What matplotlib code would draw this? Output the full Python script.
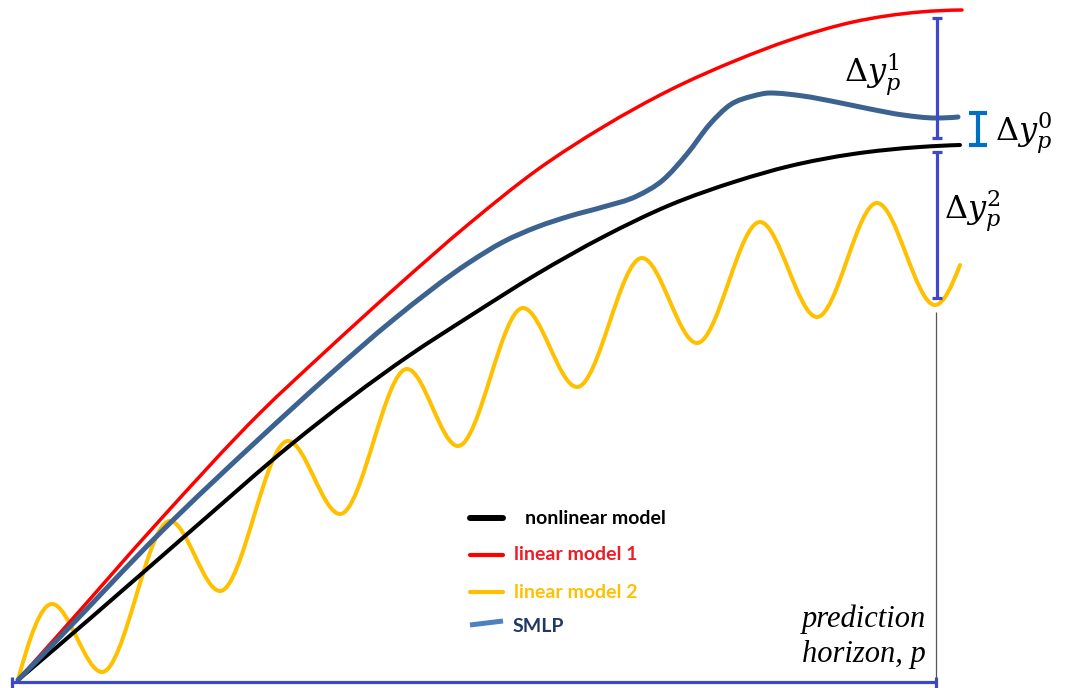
import numpy as np
import matplotlib
matplotlib.use("Agg")
import matplotlib.pyplot as plt
from matplotlib.path import Path
from matplotlib.patches import PathPatch

# ---- model responses over the prediction window (t = 0 ... horizon) ----
horizon = 918

nonlinear_t = [0, 75, 175, 275, 392, 452, 519, 585, 652, 719, 772, 835, 902, 942]
nonlinear_y = [0, 64, 151, 237, 325, 364, 406, 443, 475, 499, 514, 526, 533, 535]

linear1_t = [0, 42, 142, 242, 309, 375, 452, 519, 585, 652, 719, 772, 835, 902, 944]
linear1_y = [0, 47, 160, 267, 330, 390, 457, 510, 553, 590, 620, 640, 658, 668, 670]

linear2_t = [0, 34, 84, 152, 202, 270, 322, 389, 440, 505, 559, 624, 679,
             742, 799, 859, 917, 942]
linear2_y = [0, 76, 8, 159, 89, 239, 166, 311, 234, 372, 293, 422, 337,
             458, 363, 477, 375, 415]

smlp_t = [0, 42, 142, 242, 309, 375, 452, 485, 519, 552, 585, 619, 645,
          669, 692, 712, 735, 752, 785, 818, 852, 885, 918, 940]
smlp_y = [0, 43, 147, 242, 303, 360, 418, 438, 453, 464, 473, 484, 500,
          526, 556, 575, 584, 587, 584, 578, 571, 565, 562, 563]

# values at the horizon used for the error brackets
y_lin1_p = 669
y_smlp_p = 562
y_nonlin_p = 535
y_lin2_p = 375

legend_labels = ["nonlinear model", "linear model 1", "linear model 2", "SMLP"]


def node_slopes(x, y):
    """Three-point slopes; flat at local extrema."""
    x = np.asarray(x, float)
    y = np.asarray(y, float)
    h = np.diff(x)
    d = np.diff(y) / h
    m = np.zeros_like(y)
    for k in range(1, len(x) - 1):
        if d[k - 1] * d[k] <= 0:
            m[k] = 0.0
        else:
            m[k] = (h[k] * d[k - 1] + h[k - 1] * d[k]) / (h[k - 1] + h[k])

    def end(h0, h1, d0, d1):
        s = ((2 * h0 + h1) * d0 - h0 * d1) / (h0 + h1)
        if np.sign(s) != np.sign(d0):
            s = 0.0
        elif np.sign(d0) != np.sign(d1) and abs(s) > abs(3 * d0):
            s = 3 * d0
        return s

    m[0] = end(h[0], h[1], d[0], d[1])
    m[-1] = end(h[-1], h[-2], d[-1], d[-2])
    return m


def smooth_path(x, y):
    """Cubic Bezier path through the given points."""
    x = np.asarray(x, float)
    y = np.asarray(y, float)
    m = node_slopes(x, y)
    verts = [(x[0], y[0])]
    codes = [Path.MOVETO]
    for k in range(len(x) - 1):
        h = x[k + 1] - x[k]
        verts += [(x[k] + h / 3, y[k] + m[k] * h / 3),
                  (x[k + 1] - h / 3, y[k + 1] - m[k + 1] * h / 3),
                  (x[k + 1], y[k + 1])]
        codes += [Path.CURVE4] * 3
    return Path(verts, codes)


fig = plt.figure(figsize=(10.72, 6.88), dpi=100)
ax = fig.add_axes([0, 0, 1, 1])
ax.set_xlim(-18, 1054)
ax.set_ylim(-8, 680)
ax.axis("off")

c_black = "#000000"
c_red = "#FF0000"
c_yellow = "#FFC000"
c_smlp = "#3C6290"
c_bracket = "#3F48CC"

for t, y, col, lw in [(linear2_t, linear2_y, c_yellow, 2.9),
                      (nonlinear_t, nonlinear_y, c_black, 2.9),
                      (linear1_t, linear1_y, c_red, 2.5),
                      (smlp_t, smlp_y, c_smlp, 3.6)]:
    ax.add_patch(PathPatch(smooth_path(t, y), fill=False, edgecolor=col,
                           lw=lw, capstyle="round", joinstyle="round"))

# time axis with end caps
ax.plot([-6, horizon], [-2, -2], color=c_bracket, lw=2.3, solid_capstyle="butt")
ax.vlines([-6, horizon], -8, 3, color=c_bracket, lw=2.3)

# thin marker for the horizon
ax.vlines(horizon, -2, y_lin2_p - 7, color="#555555", lw=0.9)

# error brackets at the horizon
gap = 7
cap = 5
for top, bot in [(y_lin1_p - gap, y_nonlin_p + gap),
                 (y_nonlin_p - gap, y_lin2_p + gap)]:
    ax.vlines(horizon + 1, bot, top, color=c_bracket, lw=2.3)
    ax.hlines([top, bot], horizon + 1 - cap, horizon + 1 + cap,
              color=c_bracket, lw=2.3)
x0 = horizon + 42
ax.vlines(x0, y_nonlin_p, y_smlp_p + 5, color="#0070C0", lw=3.0)
ax.hlines([y_nonlin_p, y_smlp_p + 5], x0 - 9, x0 + 9, color="#0070C0", lw=3.0)

plt.rcParams["mathtext.fontset"] = "dejavuserif"
ax.text(826, 598, r"$\Delta y_p^1$", fontsize=23, ha="left", va="baseline")
ax.text(977, 539, r"$\Delta y_p^0$", fontsize=23, ha="left", va="baseline")
ax.text(926, 461, r"$\Delta y_p^2$", fontsize=23, ha="left", va="baseline")

ax.text(908, 53, "prediction", fontsize=22, family="Liberation Serif",
        style="italic", ha="right", va="baseline")
ax.text(908, 18, "horizon, p", fontsize=22, family="Liberation Serif",
        style="italic", ha="right", va="baseline")

# legend
W, H = 1072.0, 688.0
leg = [
    (518, 518, c_black, 4.3, "round", 525, legend_labels[0], "#000000"),
    (555, 555, c_red, 3.0, "round", 514, legend_labels[1], "#EE1C25"),
    (592, 592, c_yellow, 3.0, "round", 514, legend_labels[2], "#FFC000"),
    (625, 621, "#4F81BD", 3.6, "butt", 513, legend_labels[3], "#1F3864"),
]
for yl, yr, col, lw, capst, tx, lab, tcol in leg:
    ax.plot([470 / W, 503 / W], [1 - yl / H, 1 - yr / H], color=col, lw=lw,
            solid_capstyle=capst, transform=ax.transAxes)
    ty = yl if lab != "SMLP" else 627
    ax.text(tx / W, 1 - ty / H, lab, color=tcol, fontsize=14,
            family="Lato", weight="bold", ha="left", va="center",
            transform=ax.transAxes)

fig.savefig("out.png", dpi=100, facecolor="white")
